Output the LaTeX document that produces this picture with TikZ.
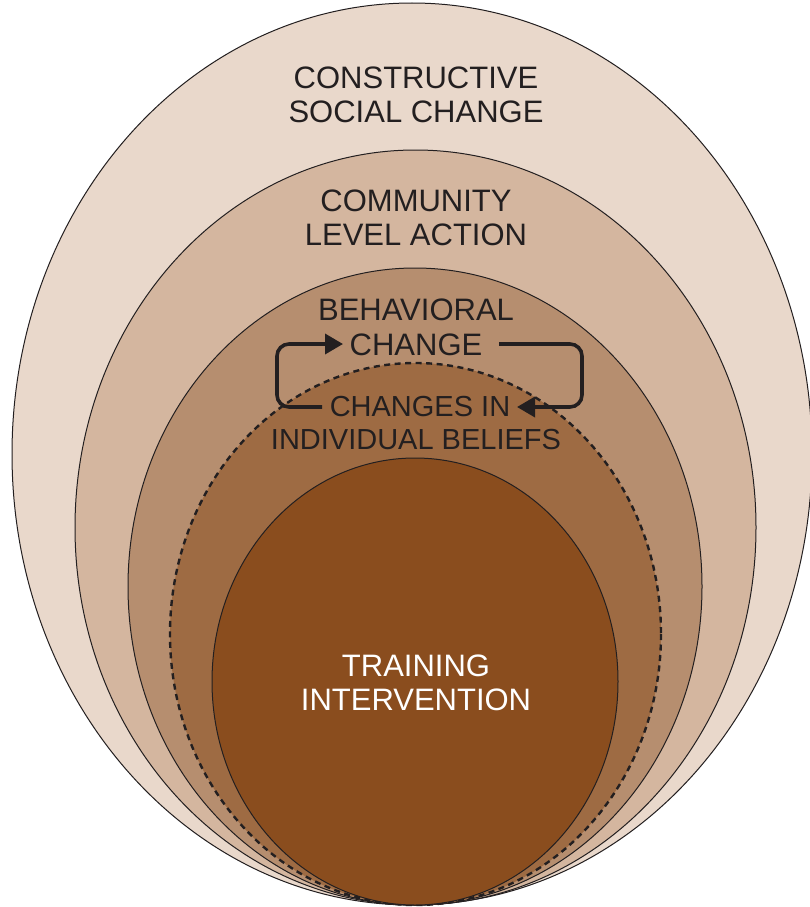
\documentclass[tikz,border=0pt]{standalone}
\usepackage{fontspec}
\setmainfont{Liberation Sans}
\usetikzlibrary{arrows.meta}
\definecolor{c1}{RGB}{233,216,203}
\definecolor{c2}{RGB}{212,182,159}
\definecolor{c3}{RGB}{182,142,111}
\definecolor{c4}{RGB}{158,107,67}
\definecolor{c5}{RGB}{138,77,30}
\definecolor{ink}{RGB}{35,31,32}
\begin{document}
\begin{tikzpicture}[x=1pt,y=-1pt,
  ring/.style={draw=ink,line width=1pt},
  lbl/.style={font=\fontsize{31}{34.5}\selectfont,text=ink,align=center,inner sep=0pt},
  small/.style={font=\fontsize{29}{34}\selectfont},
  loop/.style={draw=ink,line width=3.6pt,rounded corners=12pt,-{Triangle[length=18pt,width=20pt]}}]
\useasboundingbox (0,0) rectangle (809,907);
\fill[white] (0,0) rectangle (809,907);
\path[ring,fill=c1] (412,454) ellipse [x radius=400, y radius=451];
\path[ring,fill=c2] (415.5,527.5) ellipse [x radius=340.5, y radius=377.5];
\path[ring,fill=c3] (415,586.5) ellipse [x radius=287, y radius=318.5];
\path[fill=c4] (415.5,634) ellipse [x radius=245.5, y radius=271];
\path[draw=ink,line width=2.4pt,dash pattern=on 6pt off 4.5pt] (415.5,634) ellipse [x radius=245.5, y radius=271];
\path[ring,fill=c5] (415,681.5) ellipse [x radius=203, y radius=223.5];
\node[lbl] (csc) at (416,95) {CONSTRUCTIVE\\SOCIAL CHANGE};
\node[lbl] (cla) at (416,218) {COMMUNITY\\LEVEL ACTION};
\node[lbl] (beh) at (416,310) {BEHAVIORAL};
\node[lbl] (chg) at (416,345) {CHANGE};
\node[lbl,small] (cin) at (420,407) {CHANGES IN};
\node[lbl,small] (ind) at (416,440) {INDIVIDUAL BELIEFS};
\node[lbl,text=white] (tri) at (416,683) {TRAINING\\INTERVENTION};
\coordinate (a1) at (322,407);
\coordinate (a2) at (343,344);
\coordinate (b1) at (499,344);
\coordinate (b2) at (517,407);
\draw[loop] (a1) -- (277,407) -- (277,344) -- (a2);
\draw[loop] (b1) -- (582,344) -- (582,407) -- (b2);
\end{tikzpicture}
\end{document}
